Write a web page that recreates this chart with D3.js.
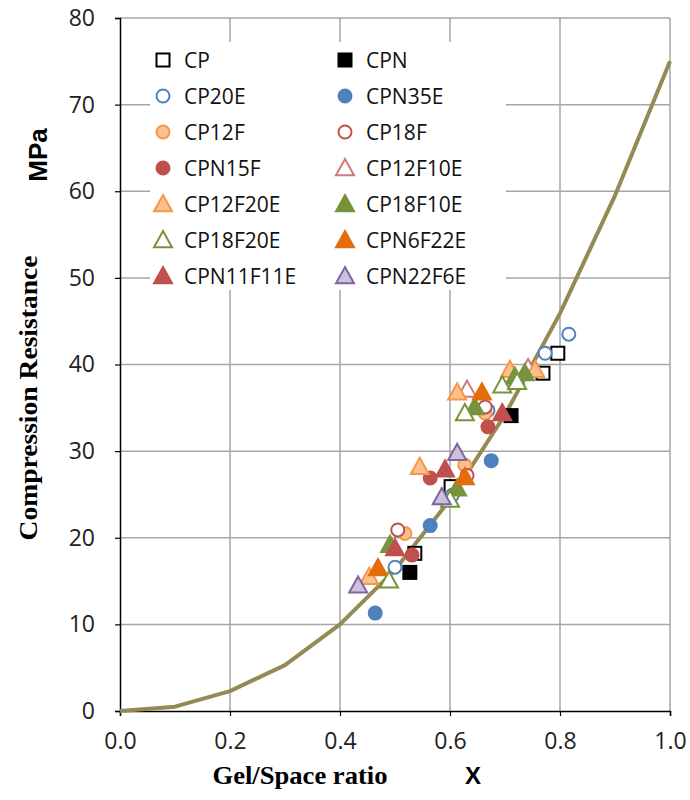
<!DOCTYPE html>
<html><head><meta charset="utf-8">
<script src="https://cdn.jsdelivr.net/npm/d3@7"></script>
<style>body{margin:0;background:#fff}svg{display:block}</style>
</head><body><div id="chart"></div>
<script>
// Powers curve (gel/space ratio vs strength)
const curveX = [0, 0.1, 0.2, 0.3, 0.4, 0.5, 0.6, 0.7, 0.8, 0.9, 1.0];
const curveY = [0, 0.5, 2.3, 5.3, 10.0, 16.3, 24.4, 34.2, 45.9, 59.5, 75.0];

const seriesNames = ["CP","CPN","CP20E","CPN35E","CP12F","CP18F","CPN15F","CP12F10E","CP12F20E","CP18F10E","CP18F20E","CPN6F22E","CPN11F11E","CPN22F6E"];
const cpX = [0.536,0.602,0.769,0.796],            cpY = [18.2,25.9,39.0,41.3];
const cpnX = [0.527,0.711],                        cpnY = [16.0,34.1];
const cp20eX = [0.816,0.773,0.500,0.669,0.604],    cp20eY = [43.5,41.3,16.6,34.7,24.9];
const cpn35eX = [0.464,0.564,0.675],               cpn35eY = [11.3,21.4,28.9];
const cp12fX = [0.518,0.627,0.664],                cp12fY = [20.5,28.4,34.4];
const cp18fX = [0.505,0.631,0.664],                cp18fY = [20.9,27.2,35.1];
const cpn15fX = [0.531,0.564,0.669],               cpn15fY = [18.0,26.9,32.8];
const cp12f10eX = [0.631,0.742],                   cp12f10eY = [37.1,39.6];
const cp12f20eX = [0.613,0.545,0.453,0.709,0.755], cp12f20eY = [36.8,28.2,15.5,39.4,39.4];
const cp18f10eX = [0.491,0.613,0.645,0.718,0.736], cp18f10eY = [19.2,25.7,35.1,38.6,39.0];
const cp18f20eX = [0.695,0.722,0.627,0.489,0.600], cp18f20eY = [37.6,38.0,34.4,15.1,24.4];
const cpn6f22eX = [0.658,0.627,0.469],             cpn6f22eY = [36.8,27.0,16.5];
const cpn11f11eX = [0.695,0.591,0.500],            cpn11f11eY = [34.4,27.9,18.8];
const cpn22f6eX = [0.613,0.585,0.433],             cpn22f6eY = [29.8,24.7,14.5];

const xTicks = [0,0.2,0.4,0.6,0.8,1.0];
const yTicks = [0,10,20,30,40,50,60,70,80];

const seriesX = [cpX,cpnX,cp20eX,cpn35eX,cp12fX,cp18fX,cpn15fX,cp12f10eX,cp12f20eX,cp18f10eX,cp18f20eX,cpn6f22eX,cpn11f11eX,cpn22f6eX];
const seriesY = [cpY,cpnY,cp20eY,cpn35eY,cp12fY,cp18fY,cpn15fY,cp12f10eY,cp12f20eY,cp18f10eY,cp18f20eY,cpn6f22eY,cpn11f11eY,cpn22f6eY];
const styles = [
  {shape:"square", fill:"#fff", stroke:"#000"},
  {shape:"square", fill:"#000", stroke:"#000"},
  {shape:"circle", fill:"#fff", stroke:"#4F81BD"},
  {shape:"circle", fill:"#4F81BD", stroke:"#4F81BD"},
  {shape:"circle", fill:"#FAC090", stroke:"#F79646"},
  {shape:"circle", fill:"#fff", stroke:"#C0504D"},
  {shape:"circle", fill:"#C0504D", stroke:"#C0504D"},
  {shape:"triangle", fill:"#fff", stroke:"#D07A78"},
  {shape:"triangle", fill:"#FAC090", stroke:"#F79646"},
  {shape:"triangle", fill:"#77933C", stroke:"#77933C"},
  {shape:"triangle", fill:"#fff", stroke:"#77933C"},
  {shape:"triangle", fill:"#E46C0A", stroke:"#E46C0A"},
  {shape:"triangle", fill:"#C0504D", stroke:"#C0504D"},
  {shape:"triangle", fill:"#CCC1DA", stroke:"#8064A2"}
];

const W = 690, H = 800;
const m = {left:120, right:670, top:18, bottom:711};
const svg = d3.select("#chart").append("svg").attr("width",W).attr("height",H);
const x = d3.scaleLinear().domain([0,1]).range([m.left,m.right]);
const y = d3.scaleLinear().domain([0,80]).range([m.bottom,m.top]);

// gridlines
const grid = svg.append("g").attr("stroke","#A6A6A6").attr("stroke-width",1.5);
grid.selectAll(".gx").data(xTicks.slice(1)).join("line")
  .attr("x1",d=>x(d)).attr("x2",d=>x(d)).attr("y1",m.top).attr("y2",m.bottom);
grid.selectAll(".gy").data(yTicks.slice(1)).join("line")
  .attr("x1",m.left).attr("x2",m.right).attr("y1",d=>y(d)).attr("y2",d=>y(d));

// axes
const fmtX = d3.format(".1f");
const xAxis = svg.append("g").attr("transform",`translate(0,${m.bottom})`)
  .call(d3.axisBottom(x).tickValues(xTicks).tickFormat(fmtX).tickSize(5).tickPadding(17));
const yAxis = svg.append("g").attr("transform",`translate(${m.left},0)`)
  .call(d3.axisLeft(y).tickValues(yTicks).tickSize(5).tickPadding(20));
[xAxis,yAxis].forEach(a=>{
  a.select(".domain").attr("stroke","#000").attr("stroke-width",1.5);
  a.selectAll(".tick line").attr("stroke","#000").attr("stroke-width",1.2);
  a.selectAll(".tick text").attr("font-family","'Open Sans', sans-serif").attr("font-size",23).attr("fill","#222");
});

// legend background
svg.append("rect").attr("x",150).attr("y",42).attr("width",356).attr("height",248).attr("fill","#fff");

// curve
const line = d3.line().x(d=>x(d[0])).y(d=>y(d[1]));
svg.append("path").datum(d3.zip(curveX,curveY)).attr("d",line)
  .attr("fill","none").attr("stroke","#948A54").attr("stroke-width",4).attr("stroke-linejoin","round");

function drawMarker(g, st, cx, cy){
  if(st.shape==="circle"){
    g.append("circle").attr("cx",cx).attr("cy",cy).attr("r",6.5)
      .attr("fill",st.fill).attr("stroke",st.stroke).attr("stroke-width",2);
  } else if(st.shape==="square"){
    g.append("rect").attr("x",cx-6.5).attr("y",cy-6.5).attr("width",13).attr("height",13)
      .attr("fill",st.fill).attr("stroke",st.stroke).attr("stroke-width",2);
  } else {
    const s = 9;
    g.append("path").attr("d",`M${cx},${cy-s}L${cx+s},${cy+s*0.8}L${cx-s},${cy+s*0.8}Z`)
      .attr("fill",st.fill).attr("stroke",st.stroke).attr("stroke-width",2).attr("stroke-linejoin","miter");
  }
}

// points
const pts = svg.append("g");
seriesNames.forEach((name,i)=>{
  const g = pts.append("g").attr("class","series-"+name);
  seriesX[i].forEach((vx,j)=>drawMarker(g, styles[i], x(vx), y(seriesY[i][j])));
});

// legend
const leg = svg.append("g");
seriesNames.forEach((name,i)=>{
  const col = i%2, row = Math.floor(i/2);
  const lx = col===0 ? 163 : 345, ly = 60 + row*36;
  drawMarker(leg, styles[i], lx, ly);
  leg.append("text").attr("x",lx+21).attr("y",ly+8).text(name)
    .attr("font-family","'Open Sans', sans-serif").attr("font-size",21).attr("fill","#111");
});

// axis titles
svg.append("text").attr("transform","translate(47,155) rotate(-90)").attr("text-anchor","middle")
  .attr("font-family","'Liberation Sans', Arial, sans-serif").attr("font-weight","bold").attr("font-size",26).text("MPa");
svg.append("text").attr("transform","translate(37,398) rotate(-90)").attr("text-anchor","middle")
  .attr("font-family","'Liberation Serif', 'Times New Roman', serif").attr("font-weight","bold").attr("font-size",26)
  .attr("textLength",285).attr("lengthAdjust","spacingAndGlyphs").text("Compression Resistance");
svg.append("text").attr("x",300).attr("y",784).attr("text-anchor","middle")
  .attr("font-family","'Liberation Serif', 'Times New Roman', serif").attr("font-weight","bold").attr("font-size",25)
  .attr("textLength",175).attr("lengthAdjust","spacingAndGlyphs").text("Gel/Space ratio");
svg.append("text").attr("x",473).attr("y",784).attr("text-anchor","middle")
  .attr("font-family","'Liberation Sans', Arial, sans-serif").attr("font-weight","bold").attr("font-size",24).text("X");
</script></body></html>
